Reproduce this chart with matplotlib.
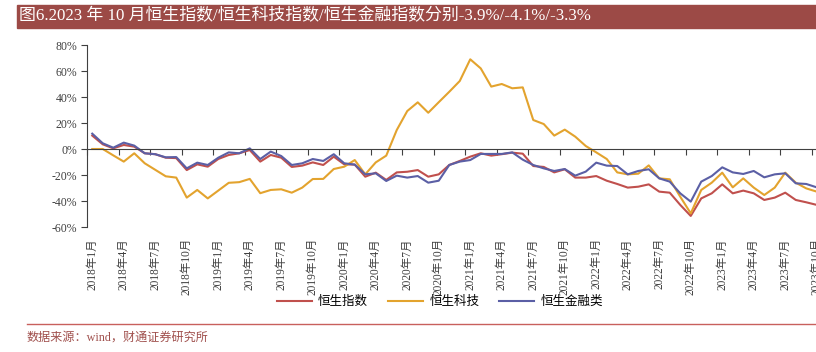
import numpy as np
import matplotlib
matplotlib.use("Agg")
import matplotlib.pyplot as plt
from matplotlib.patches import Rectangle

# monthly cumulative returns since 2018-01 (%)
months = [f"{y}年{m}月" for y in range(2018, 2024) for m in range(1, 13)][:70]

hsi = [10.3, 3.6, 0.5, 3.1, 1.8, -3.3, -4.0, -6.7, -7.0, -16.2,
       -11.8, -13.6, -7.7, -4.6, -3.3, -0.8, -9.7, -4.6, -6.7, -13.8,
       -12.8, -10.3, -12.3, -5.9, -11.8, -12.0, -21.3, -18.2, -23.8, -18.0,
       -17.5, -16.2, -21.3, -19.5, -12.3, -9.2, -5.9, -3.3, -5.1, -4.0,
       -2.8, -3.6, -13.1, -13.8, -18.0, -15.6, -22.0, -22.0, -20.8, -24.4,
       -26.9, -29.7, -29.0, -27.2, -32.8, -33.6, -43.0, -51.5, -38.0, -34.1,
       -27.2, -34.1, -32.0, -34.1, -39.2, -37.4, -33.6, -39.2, -41.0, -43.0]

hstech = [0.0, 0.0, -4.9, -9.7, -3.3, -11.0, -16.0, -21.0, -22.0, -37.4,
          -31.5, -38.0, -32.0, -26.0, -25.5, -23.0, -34.0, -31.5, -31.0, -33.6,
          -29.7, -23.1, -23.0, -15.4, -13.6, -8.5, -19.5, -10.3, -5.1, 14.6,
          29.2, 35.9, 27.9, 36.0, 44.0, 52.3, 69.0, 62.0, 48.0, 50.0,
          46.7, 47.4, 22.3, 19.2, 10.3, 14.9, 9.5, 2.3, -2.6, -7.7,
          -18.0, -19.5, -19.0, -12.6, -22.6, -23.3, -36.7, -49.5, -31.5, -25.9,
          -18.2, -29.5, -22.6, -29.7, -35.4, -29.7, -18.2, -25.9, -30.3, -32.8]

hsfin = [11.8, 4.4, 1.0, 4.9, 2.6, -3.3, -4.0, -6.4, -6.2, -14.9,
         -10.5, -12.3, -6.7, -2.6, -3.3, 0.5, -7.7, -2.0, -5.4, -12.3,
         -11.0, -7.7, -9.2, -4.0, -11.0, -12.0, -19.5, -18.7, -24.6, -20.5,
         -22.0, -20.8, -25.9, -24.4, -12.3, -9.7, -8.5, -3.8, -3.8, -3.8,
         -2.6, -8.2, -12.3, -14.9, -16.9, -15.4, -20.5, -17.4, -10.5, -12.8,
         -13.1, -19.5, -16.9, -15.6, -22.6, -25.1, -34.1, -40.5, -25.1, -20.8,
         -14.1, -18.0, -19.2, -16.9, -21.8, -19.5, -18.7, -26.4, -26.9, -29.5]

series = [("恒生指数", hsi, "#C0504D"),
          ("恒生科技", hstech, "#E3A32E"),
          ("恒生金融类", hsfin, "#5B5FA5")]

serif = ["Liberation Serif", "Noto Sans CJK SC"]
plt.rcParams["font.family"] = serif

W, H = 816, 352
fig = plt.figure(figsize=(W / 100, H / 100), dpi=100)

# title bar
fig.patches.append(Rectangle((17 / W, 1 - 28 / H), 1 - 17 / W, 23 / H,
                             transform=fig.transFigure, color="#9C4A46", zorder=0))
fig.text(19 / W, 1 - 16.5 / H,
         "图6.2023 年 10 月恒生指数/恒生科技指数/恒生金融指数分别-3.9%/-4.1%/-3.3%",
         color="white", fontsize=12.2, va="center", ha="left")

n = len(months)
x = np.arange(n)
ax = fig.add_axes([87 / W, 1 - 227 / H, (822 - 87) / W, (227 - 45) / H])
for name, vals, c in series:
    ax.plot(x, vals, color=c, lw=1.5, label=name)

ax.set_xlim(-0.5, n - 0.5)
ax.set_ylim(-60, 80)
yt = np.arange(-60, 81, 20)
ax.set_yticks(yt, [f"{v}%" for v in yt])
ax.tick_params(axis="y", length=4, width=0.8, color="#404040",
               labelsize=8.5, labelcolor="#404040", pad=3)

for s in ["top", "right"]:
    ax.spines[s].set_visible(False)
ax.spines["left"].set_color("#404040")
ax.spines["bottom"].set_position(("data", 0))
ax.spines["bottom"].set_color("#404040")
ax.set_xticks(np.arange(-0.5, n, 3))
ax.set_xticklabels([])
ax.tick_params(axis="x", length=4, width=0.8, color="#404040", direction="out")

sec = ax.secondary_xaxis(0)
sec.set_xticks(x[::3], [months[i] for i in x[::3]], rotation=90)
sec.tick_params(length=0, pad=8, labelsize=8.3, labelcolor="#404040")
sec.spines["bottom"].set_visible(False)
for lab in sec.get_xticklabels():
    lab.set_va("top")

fig.legend(loc="center", bbox_to_anchor=(440 / W, 1 - 302 / H), ncol=3,
           frameon=False, fontsize=9, handlelength=2.8, columnspacing=1.6,
           handletextpad=0.5)

# footer
fig.add_artist(plt.Line2D([27 / W, 1], [1 - 324 / H, 1 - 324 / H],
                          transform=fig.transFigure, color="#C8605C", lw=1))
fig.text(27 / W, 1 - 338 / H, "数据来源：wind，财通证券研究所",
         color="#A0504D", fontsize=8.7, va="center", ha="left")

fig.savefig("out.png", dpi=100)
